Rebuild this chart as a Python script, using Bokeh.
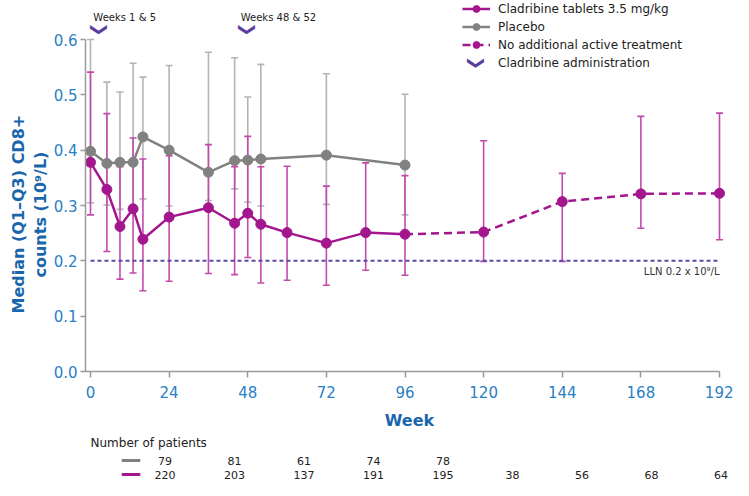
import math
from bokeh.plotting import figure
from bokeh.models import (ColumnDataSource, Range1d, FixedTicker, Whisker, TeeHead,
                          Legend, LegendItem, Label, Title, PrintfTickFormatter)
from bokeh.layouts import column
from bokeh.core.properties import value
from bokeh.embed import file_html
from bokeh.resources import INLINE

# ---------------- data ----------------
clad_weeks = [0, 5, 9, 13, 16, 24, 36, 44, 48, 52, 60, 72, 84, 96, 120, 144, 168, 192]
clad_median = [0.378, 0.329, 0.262, 0.294, 0.239, 0.279, 0.296, 0.268, 0.286, 0.266,
               0.251, 0.232, 0.251, 0.248, 0.252, 0.307, 0.321, 0.322]
clad_q1 = [0.283, 0.217, 0.167, 0.178, 0.146, 0.163, 0.177, 0.175, 0.206, 0.160,
           0.165, 0.156, 0.183, 0.174, 0.199, 0.199, 0.259, 0.238]
clad_q3 = [0.541, 0.466, 0.370, 0.422, 0.384, 0.390, 0.410, 0.370, 0.425, 0.370,
           0.371, 0.335, 0.377, 0.354, 0.417, 0.358, 0.461, 0.467]
split_week = 96  # after this week: no additional active treatment

pbo_weeks = [0, 5, 9, 13, 16, 24, 36, 44, 48, 52, 72, 96]
pbo_median = [0.398, 0.376, 0.378, 0.378, 0.424, 0.400, 0.360, 0.381, 0.382, 0.384, 0.391, 0.373]
pbo_q1 = [0.305, 0.301, 0.293, 0.295, 0.312, 0.299, 0.309, 0.330, 0.306, 0.299, 0.302, 0.283]
pbo_q3 = [0.600, 0.523, 0.505, 0.557, 0.532, 0.553, 0.577, 0.567, 0.496, 0.555, 0.538, 0.501]

admin_weeks = [3, 48]
admin_labels = ["Weeks 1 & 5", "Weeks 48 & 52"]
lln_value = 0.2
lln_label = "LLN 0.2 x 10\u2079/L"

x_ticks = [0, 24, 48, 72, 96, 120, 144, 168, 192]
y_ticks = [0.0, 0.1, 0.2, 0.3, 0.4, 0.5, 0.6]
y_title_lines = ["Median (Q1\u2013Q3) CD8+", "counts (10\u2079/L)"]

n_weeks_pbo = [0, 24, 48, 72, 96]
n_pbo = ["79", "81", "61", "74", "78"]
n_weeks_clad = [0, 24, 48, 72, 96, 120, 144, 168, 192]
n_clad = ["220", "203", "137", "191", "195", "38", "56", "68", "64"]

# ---------------- style ----------------
FONT = "DejaVu Sans"
MAG = "#a3168e"
MAG_EB = "#c24aab"
GRAY = "#818181"
GRAY_EB = "#b4b4b4"
PURPLE = "#5a3d9e"
LLN_C = "#5b4aa8"
TICK_BLUE = "#2a80c4"
TITLE_BLUE = "#1a66ad"
AXIS_C = "#9a9a9a"

W = 733
H = 480
X0_PX = 90          # pixel of week 0
LEFT = 85           # frame left edge (room for the week-0 markers)
FRAME_H = 371
H_MAIN = 432
PX_PER_WEEK = (719 - X0_PX) / 192.0
X_START = -(X0_PX - LEFT) / PX_PER_WEEK
X_END = (W - X0_PX) / PX_PER_WEEK
PX_PER_UNIT = 332 / 0.6
Y_TOP = 0.6 + 39 / PX_PER_UNIT

p = figure(width=W, height=H_MAIN, output_backend="svg", toolbar_location=None,
           x_range=Range1d(X_START, X_END), y_range=Range1d(0, Y_TOP),
           min_border_left=LEFT, min_border_right=0, min_border_top=0,
           min_border_bottom=H_MAIN - FRAME_H)
p.outline_line_color = None
p.xgrid.visible = False
p.ygrid.visible = False
p.background_fill_color = "white"

# axes
xa = p.xaxis[0]
xa.ticker = FixedTicker(ticks=x_ticks)
xa.bounds = (X_START, x_ticks[-1])
xa.minor_tick_line_color = None
xa.major_tick_in = 0
xa.major_tick_out = 6
xa.axis_line_color = AXIS_C
xa.major_tick_line_color = AXIS_C
xa.axis_line_width = 1.5
xa.major_tick_line_width = 1.5
xa.major_label_text_font = FONT
xa.major_label_text_font_size = "15px"
xa.major_label_text_color = TICK_BLUE
xa.major_label_standoff = 8
xa.axis_label = "Week"
xa.axis_label_text_font = FONT
xa.axis_label_text_font_size = "16px"
xa.axis_label_text_font_style = "bold"
xa.axis_label_text_color = TITLE_BLUE
xa.axis_label_standoff = 10

ya = p.yaxis[0]
ya.ticker = FixedTicker(ticks=y_ticks)
ya.bounds = (y_ticks[0], y_ticks[-1])
ya.formatter = PrintfTickFormatter(format="%.1f")
ya.minor_tick_line_color = None
ya.major_tick_in = 0
ya.major_tick_out = 5
ya.axis_line_color = AXIS_C
ya.major_tick_line_color = AXIS_C
ya.axis_line_width = 1.5
ya.major_tick_line_width = 1.5
ya.major_label_text_font = FONT
ya.major_label_text_font_size = "15px"
ya.major_label_text_color = TICK_BLUE
ya.major_label_standoff = 3

# y-axis title (two lines, nearest line first); offset = distance of text start above frame bottom
for line_txt, sto, off in ((y_title_lines[1], 1, 94), (y_title_lines[0], 2, 58)):
    p.add_layout(Title(text=line_txt, align="left", offset=off, standoff=sto,
                       text_font=FONT, text_font_size="16px", text_font_style="bold",
                       text_color=TITLE_BLUE), "left")

# LLN
p.line([clad_weeks[0], clad_weeks[-1]], [lln_value, lln_value], line_color=LLN_C,
       line_width=2, line_dash="4 3")
p.text(x=[clad_weeks[-1]], y=[lln_value], text=[lln_label], text_font=value(FONT),
       text_font_size="10px", text_color="#333333", text_align="right",
       text_baseline="top", y_offset=5)

# error bars
src_pe = ColumnDataSource(dict(x=pbo_weeks, lower=pbo_q1, upper=pbo_q3))
src_ce = ColumnDataSource(dict(x=clad_weeks, lower=clad_q1, upper=clad_q3))
for src, col in ((src_pe, GRAY_EB), (src_ce, MAG_EB)):
    w = Whisker(source=src, base="x", lower="lower", upper="upper", dimension="height",
                line_color=col, line_width=1.6,
                upper_head=TeeHead(size=7, line_color=col, line_width=1.6),
                lower_head=TeeHead(size=7, line_color=col, line_width=1.6))
    p.add_layout(w)

# series
pbo_line = p.line(pbo_weeks, pbo_median, line_color=GRAY, line_width=2.5)
pbo_pts = p.scatter(pbo_weeks, pbo_median, size=10, fill_color=GRAY, line_color=GRAY)

solid_idx = [i for i, wk in enumerate(clad_weeks) if wk <= split_week]
dash_idx = [i for i, wk in enumerate(clad_weeks) if wk >= split_week]
clad_line = p.line([clad_weeks[i] for i in solid_idx], [clad_median[i] for i in solid_idx],
                   line_color=MAG, line_width=2.5)
dash_line = p.line([clad_weeks[i] for i in dash_idx], [clad_median[i] for i in dash_idx],
                   line_color=MAG, line_width=2.5, line_dash="8 5")
clad_pts = p.scatter(clad_weeks, clad_median, size=10, fill_color=MAG, line_color=MAG)

# administration chevrons
chev_y = 0.6 + 10 / PX_PER_UNIT
txt_y = 0.6 + 22 / PX_PER_UNIT
chev_r = p.text(x=admin_weeks, y=[chev_y] * len(admin_weeks), text=["\u276F"] * len(admin_weeks),
                angle=-math.pi / 2, text_font=value(FONT), text_font_size="17px",
                text_font_style="bold", text_color=PURPLE, text_align="center",
                text_baseline="middle")
p.text(x=admin_weeks, y=[txt_y] * len(admin_weeks), text=admin_labels, x_offset=-7,
       text_font=value(FONT), text_font_size="10px", text_color="#222222",
       text_align="left", text_baseline="middle")

# legend
LEG_LEFT = 462
LEG_ROW = 17
LEG_SP = 1
leg_h = 4 * LEG_ROW + 3 * LEG_SP
legend = Legend(items=[
    LegendItem(label="Cladribine tablets 3.5 mg/kg", renderers=[clad_line, clad_pts]),
    LegendItem(label="Placebo", renderers=[pbo_line, pbo_pts]),
    LegendItem(label="No additional active treatment", renderers=[dash_line, clad_pts]),
    LegendItem(label="Cladribine administration", renderers=[chev_r]),
], location=(LEG_LEFT - LEFT, FRAME_H - leg_h))
legend.padding = 0
legend.spacing = LEG_SP
legend.label_height = LEG_ROW
legend.glyph_height = LEG_ROW
legend.glyph_width = 28
legend.label_standoff = 8
legend.border_line_color = None
legend.background_fill_alpha = 0
legend.label_text_font = FONT
legend.label_text_font_size = "12px"
legend.label_text_color = "#222222"
legend.label_text_baseline = "middle"
p.add_layout(legend)

leg_chev_x = (LEG_LEFT + 14 - X0_PX) / PX_PER_WEEK
leg_chev_y = Y_TOP - (3 * (LEG_ROW + LEG_SP) + LEG_ROW / 2) / PX_PER_UNIT
p.add_layout(Label(x=leg_chev_x, y=leg_chev_y, text="\u276F", angle=-math.pi / 2,
                   text_font=FONT, text_font_size="17px", text_font_style="bold",
                   text_color=PURPLE, text_align="center", text_baseline="middle"))

# ---------------- number at risk table ----------------
H_TAB = H - H_MAIN
t = figure(width=W, height=H_TAB, output_backend="svg", toolbar_location=None,
           x_range=Range1d(-X0_PX / PX_PER_WEEK, X_END), y_range=Range1d(H_TAB, 0),
           min_border=0, x_axis_location=None, y_axis_location=None)
t.outline_line_color = None
t.xgrid.visible = False
t.ygrid.visible = False

row_head, row_pbo, row_clad = 10, 28, 42
t.text(x=[-X0_PX / PX_PER_WEEK], y=[row_head], text=["Number of patients"], x_offset=5,
       text_font=value(FONT), text_font_size="12px", text_color="#222222",
       text_align="left", text_baseline="middle")
sw0, sw1 = (41 - X0_PX) / PX_PER_WEEK, (62 - X0_PX) / PX_PER_WEEK
t.segment(x0=[sw0, sw0], y0=[row_pbo, row_clad], x1=[sw1, sw1], y1=[row_pbo, row_clad],
          line_color=[GRAY, MAG], line_width=3)
t.text(x=n_weeks_pbo, y=[row_pbo] * len(n_pbo), text=n_pbo, text_font=value(FONT),
       text_font_size="11px", text_color="#222222", text_align="center", text_baseline="middle")
t.text(x=n_weeks_clad, y=[row_clad] * len(n_clad), text=n_clad, text_font=value(FONT),
       text_font_size="11px", text_color="#222222", text_align="center", text_baseline="middle")

layout = column(p, t)
open("out.html", "w").write(file_html(layout, INLINE))
